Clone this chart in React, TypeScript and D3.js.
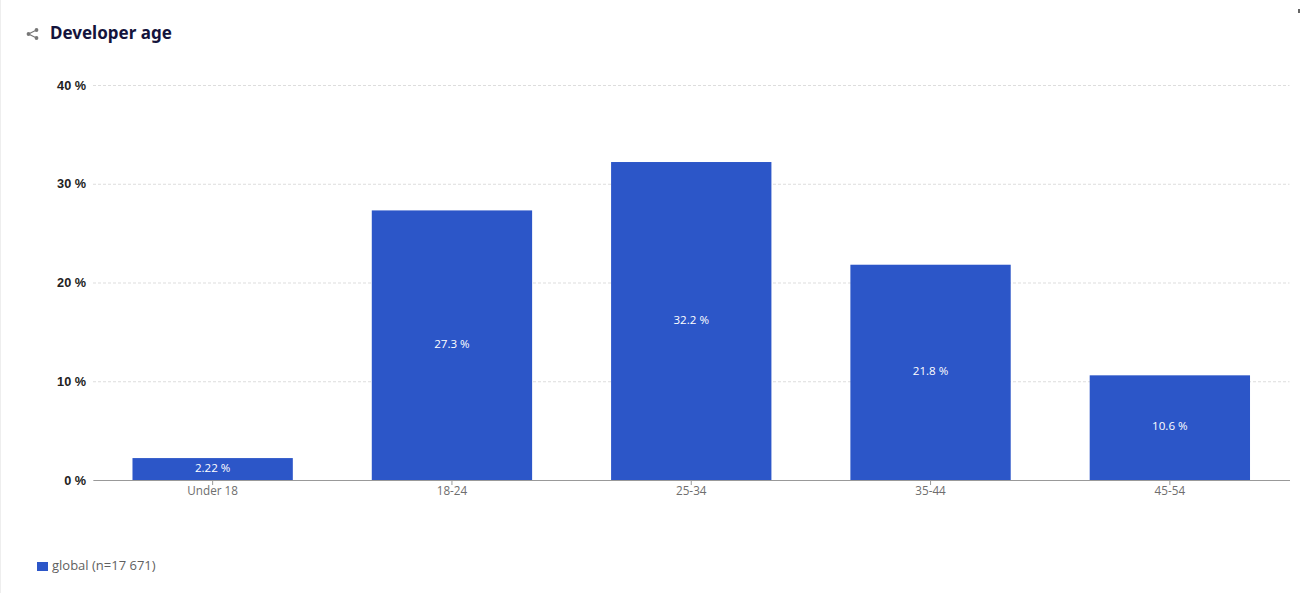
import React, {useEffect, useRef} from 'react';
import * as d3 from 'd3';

const categories: string[] = ['Under 18', '18-24', '25-34', '35-44', '45-54'];
const values: number[] = [2.22, 27.3, 32.2, 21.8, 10.6];
const valueLabels: string[] = ['2.22 %', '27.3 %', '32.2 %', '21.8 %', '10.6 %'];
const yTicks: number[] = [0, 10, 20, 30, 40];
const chartTitle = 'Developer age';
const legendLabel = 'global (n=17 671)';

const width = 1300;
const height = 593;
const margin = {top: 85, right: 10.5, bottom: 113, left: 93};
const blue = '#2c56c8';
const labelFont = '"Open Sans", sans-serif';

const App = () => {
  const refObject: any = useRef();

  useEffect(() => {
    const svg: any = d3.select(refObject.current);
    svg.selectAll('*').remove();

    const x = d3.scaleBand()
      .domain(categories)
      .range([margin.left, width - margin.right])
      .paddingInner(0.33)
      .paddingOuter(0.165);

    const y = d3.scaleLinear()
      .domain([0, 40])
      .range([height - margin.bottom, margin.top]);

    // faint page edge on the left
    svg.append('line')
      .attr('x1', 0.5).attr('x2', 0.5)
      .attr('y1', 0).attr('y2', height)
      .attr('stroke', '#eeeeee');

    // title and share icon
    const icon = svg.append('g')
      .attr('transform', 'translate(32,34)')
      .attr('fill', '#777777');
    icon.append('path')
      .attr('d', 'M4.5,-4 L-3.5,0 L4.5,4')
      .attr('fill', 'none')
      .attr('stroke', '#777777')
      .attr('stroke-width', 1.2);
    [[4.5, -4], [-3.5, 0], [4.5, 4]].forEach(p => {
      icon.append('circle')
        .attr('cx', p[0]).attr('cy', p[1]).attr('r', 1.9);
    });

    svg.append('text')
      .attr('x', 50)
      .attr('y', 39)
      .attr('font-family', '"Noto Sans", sans-serif')
      .attr('font-size', 17)
      .attr('font-weight', 700)
      .attr('fill', '#14143c')
      .text(chartTitle);

    // y axis with dashed grid lines
    const yAxis = d3.axisLeft(y)
      .tickValues(yTicks)
      .tickSize(-(width - margin.left - margin.right))
      .tickPadding(7)
      .tickFormat((d: any) => `${d} %`);

    svg.append('g')
      .attr('transform', `translate(${margin.left},0)`)
      .call(yAxis)
      .call((g: any) => g.select('.domain').remove())
      .call((g: any) => g.selectAll('.tick line')
        .attr('stroke', '#dddddd')
        .attr('stroke-dasharray', '3,2'))
      .call((g: any) => g.selectAll('.tick text')
        .attr('font-family', '"Liberation Sans", sans-serif')
        .attr('font-size', 12.7)
        .attr('font-weight', 700)
        .attr('fill', '#222222'));

    // bars
    svg.append('g')
      .selectAll('rect')
      .data(values)
      .join('rect')
      .attr('x', (_: number, i: number) => x(categories[i]))
      .attr('y', (d: number) => y(d))
      .attr('width', x.bandwidth())
      .attr('height', (d: number) => y(0) - y(d))
      .attr('fill', blue);

    svg.append('g')
      .selectAll('text')
      .data(values)
      .join('text')
      .attr('x', (_: number, i: number) => (x(categories[i]) as number) + x.bandwidth() / 2)
      .attr('y', (d: number) => (y(d) + y(0)) / 2 + 2.8)
      .attr('text-anchor', 'middle')
      .attr('font-family', labelFont)
      .attr('font-size', 11.6)
      .attr('fill', '#ffffff')
      .text((_: number, i: number) => valueLabels[i]);

    // x axis
    const xAxis = d3.axisBottom(x).tickSize(5).tickSizeOuter(0).tickPadding(2);

    svg.append('g')
      .attr('transform', `translate(0,${y(0)})`)
      .call(xAxis)
      .call((g: any) => g.select('.domain').attr('stroke', '#999999'))
      .call((g: any) => g.selectAll('.tick line').attr('stroke', '#999999'))
      .call((g: any) => g.selectAll('.tick text')
        .attr('font-family', labelFont)
        .attr('font-size', 11.7)
        .attr('fill', '#6e6e6e'));

    // legend
    svg.append('rect')
      .attr('x', 37).attr('y', 562)
      .attr('width', 11).attr('height', 9)
      .attr('fill', blue);
    svg.append('text')
      .attr('x', 52)
      .attr('y', 570)
      .attr('font-family', labelFont)
      .attr('font-size', 13)
      .attr('fill', '#5f5f5f')
      .text(legendLabel);

    // small mark in the top right corner
    svg.append('rect')
      .attr('x', 1298).attr('y', 9)
      .attr('width', 2).attr('height', 4)
      .attr('fill', '#666666');
  }, []);

  return (
    <svg
      ref={refObject}
      width={width}
      height={height}
      style={{position: 'absolute', top: 0, left: 0, background: '#ffffff'}}
    />
  );
}

export default App;
